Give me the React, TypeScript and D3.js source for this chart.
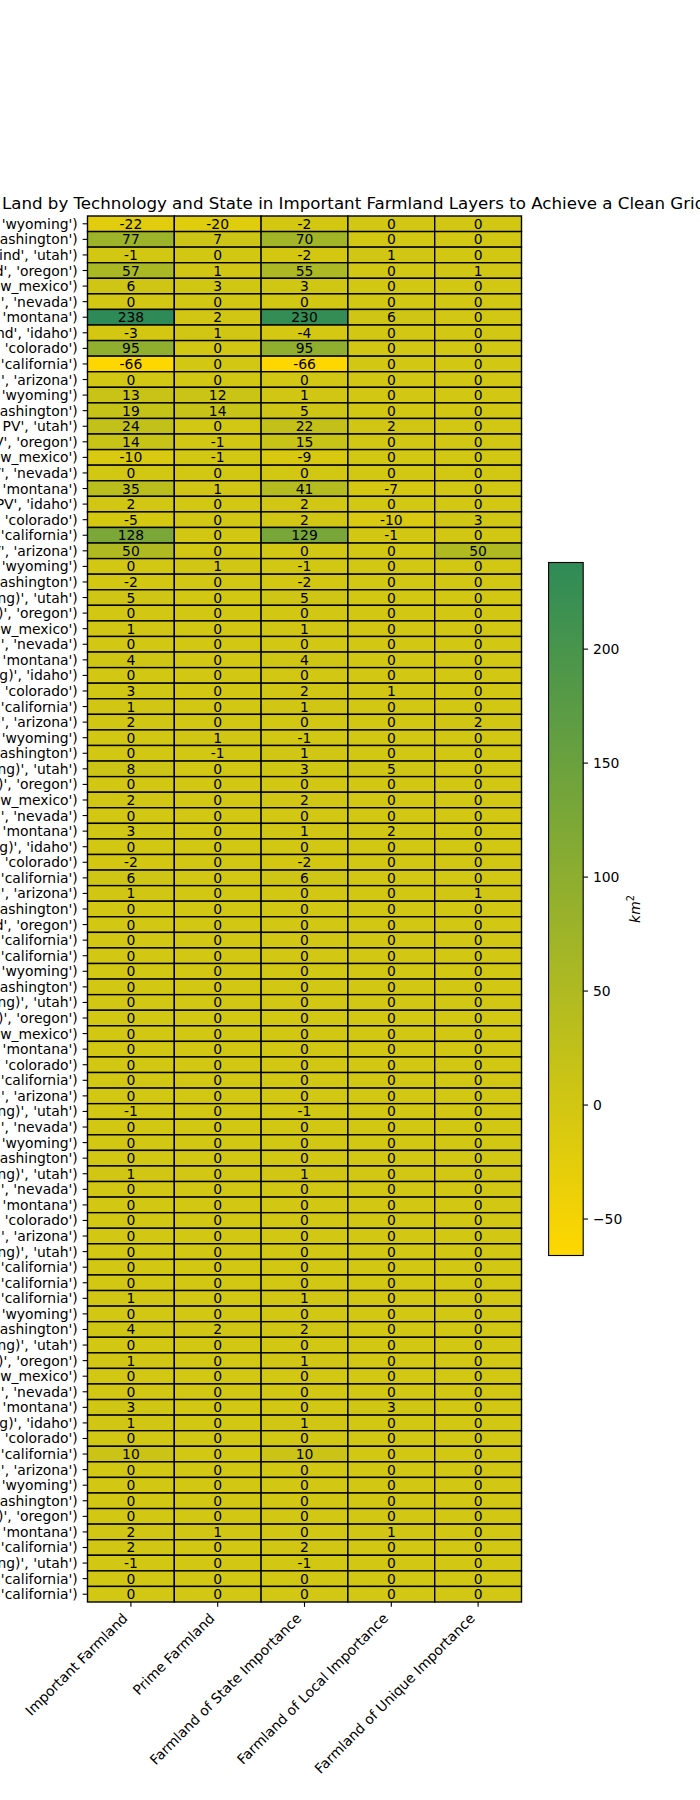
import { useEffect, useRef } from 'react';
import * as d3 from 'd3';

const columns = [
  'Important Farmland',
  'Prime Farmland',
  'Farmland of State Importance',
  'Farmland of Local Importance',
  'Farmland of Unique Importance',
];

const rowLabels = [
  "('Onshore Wind', 'wyoming')", "('Onshore Wind', 'washington')", "('Onshore Wind', 'utah')",
  "('Onshore Wind', 'oregon')", "('Onshore Wind', 'new_mexico')", "('Onshore Wind', 'nevada')",
  "('Onshore Wind', 'montana')", "('Onshore Wind', 'idaho')", "('Onshore Wind', 'colorado')",
  "('Onshore Wind', 'california')", "('Onshore Wind', 'arizona')",
  "('Utility PV', 'wyoming')", "('Utility PV', 'washington')", "('Utility PV', 'utah')",
  "('Utility PV', 'oregon')", "('Utility PV', 'new_mexico')", "('Utility PV', 'nevada')",
  "('Utility PV', 'montana')", "('Utility PV', 'idaho')", "('Utility PV', 'colorado')",
  "('Utility PV', 'california')", "('Utility PV', 'arizona')",
  "('Transmission (Existing)', 'wyoming')", "('Transmission (Existing)', 'washington')",
  "('Transmission (Existing)', 'utah')", "('Transmission (Existing)', 'oregon')",
  "('Transmission (Existing)', 'new_mexico')", "('Transmission (Existing)', 'nevada')",
  "('Transmission (Existing)', 'montana')", "('Transmission (Existing)', 'idaho')",
  "('Transmission (Existing)', 'colorado')", "('Transmission (Existing)', 'california')",
  "('Transmission (Existing)', 'arizona')",
  "('Transmission (Upgrading)', 'wyoming')", "('Transmission (Upgrading)', 'washington')",
  "('Transmission (Upgrading)', 'utah')", "('Transmission (Upgrading)', 'oregon')",
  "('Transmission (Upgrading)', 'new_mexico')", "('Transmission (Upgrading)', 'nevada')",
  "('Transmission (Upgrading)', 'montana')", "('Transmission (Upgrading)', 'idaho')",
  "('Transmission (Upgrading)', 'colorado')", "('Transmission (Upgrading)', 'california')",
  "('Transmission (Upgrading)', 'arizona')",
  "('Offshore Wind', 'washington')", "('Offshore Wind', 'oregon')", "('Offshore Wind', 'california')",
  "('Floating Offshore Wind', 'california')",
  "('Geothermal (Flash Existing)', 'wyoming')", "('Geothermal (Flash Existing)', 'washington')",
  "('Geothermal (Flash Existing)', 'utah')", "('Geothermal (Flash Existing)', 'oregon')",
  "('Geothermal (Flash Existing)', 'new_mexico')", "('Geothermal (Flash Existing)', 'montana')",
  "('Geothermal (Flash Existing)', 'colorado')", "('Geothermal (Flash Existing)', 'california')",
  "('Geothermal (Flash Existing)', 'arizona')",
  "('Geothermal (Binary Existing)', 'utah')", "('Geothermal (Binary Existing)', 'nevada')",
  "('Geothermal (Flash Upgrading)', 'wyoming')", "('Geothermal (Flash Upgrading)', 'washington')",
  "('Geothermal (Flash Upgrading)', 'utah')", "('Geothermal (Flash Upgrading)', 'nevada')",
  "('Geothermal (Flash Upgrading)', 'montana')", "('Geothermal (Flash Upgrading)', 'colorado')",
  "('Geothermal (Flash Upgrading)', 'arizona')",
  "('Geothermal (Binary Upgrading)', 'utah')", "('Geothermal (Binary Upgrading)', 'california')",
  "('Hydrokinetic', 'california')",
  "('Tidal', 'california')",
  "('Spur Lines (Wind Siting)', 'wyoming')", "('Spur Lines (Wind Siting)', 'washington')",
  "('Spur Lines (Wind Siting)', 'utah')", "('Spur Lines (Wind Siting)', 'oregon')",
  "('Spur Lines (Wind Siting)', 'new_mexico')", "('Spur Lines (Wind Siting)', 'nevada')",
  "('Spur Lines (Wind Siting)', 'montana')", "('Spur Lines (Wind Siting)', 'idaho')",
  "('Spur Lines (Wind Siting)', 'colorado')", "('Spur Lines (Wind Siting)', 'california')",
  "('Spur Lines (Wind Siting)', 'arizona')",
  "('Spur Lines (PV Siting)', 'wyoming')", "('Spur Lines (PV Siting)', 'washington')",
  "('Spur Lines (PV Siting)', 'oregon')", "('Spur Lines (PV Siting)', 'montana')",
  "('Spur Lines (PV Siting)', 'california')",
  "('Spur Lines (Geo Siting)', 'utah')", "('Spur Lines (Geo Siting)', 'california')",
  "('Spur Lines (Offshore)', 'california')",
];

// one value per row, same order as rowLabels
const importantFarmland = [
  -22, 77, -1, 57, 6, 0, 238, -3, 95, -66, 0,
  13, 19, 24, 14, -10, 0, 35, 2, -5, 128, 50,
  0, -2, 5, 0, 1, 0, 4, 0, 3, 1, 2,
  0, 0, 8, 0, 2, 0, 3, 0, -2, 6, 1,
  0, 0, 0,
  0,
  0, 0, 0, 0, 0, 0, 0, 0, 0,
  -1, 0,
  0, 0, 1, 0, 0, 0, 0,
  0, 0,
  0,
  1,
  0, 4, 0, 1, 0, 0, 3, 1, 0, 10, 0,
  0, 0, 0, 2, 2,
  -1, 0,
  0,
];

const primeFarmland = [
  -20, 7, 0, 1, 3, 0, 2, 1, 0, 0, 0,
  12, 14, 0, -1, -1, 0, 1, 0, 0, 0, 0,
  1, 0, 0, 0, 0, 0, 0, 0, 0, 0, 0,
  1, -1, 0, 0, 0, 0, 0, 0, 0, 0, 0,
  0, 0, 0,
  0,
  0, 0, 0, 0, 0, 0, 0, 0, 0,
  0, 0,
  0, 0, 0, 0, 0, 0, 0,
  0, 0,
  0,
  0,
  0, 2, 0, 0, 0, 0, 0, 0, 0, 0, 0,
  0, 0, 0, 1, 0,
  0, 0,
  0,
];

const stateImportance = [
  -2, 70, -2, 55, 3, 0, 230, -4, 95, -66, 0,
  1, 5, 22, 15, -9, 0, 41, 2, 2, 129, 0,
  -1, -2, 5, 0, 1, 0, 4, 0, 2, 1, 0,
  -1, 1, 3, 0, 2, 0, 1, 0, -2, 6, 0,
  0, 0, 0,
  0,
  0, 0, 0, 0, 0, 0, 0, 0, 0,
  -1, 0,
  0, 0, 1, 0, 0, 0, 0,
  0, 0,
  0,
  1,
  0, 2, 0, 1, 0, 0, 0, 1, 0, 10, 0,
  0, 0, 0, 0, 2,
  -1, 0,
  0,
];

const localImportance = [
  0, 0, 1, 0, 0, 0, 6, 0, 0, 0, 0,
  0, 0, 2, 0, 0, 0, -7, 0, -10, -1, 0,
  0, 0, 0, 0, 0, 0, 0, 0, 1, 0, 0,
  0, 0, 5, 0, 0, 0, 2, 0, 0, 0, 0,
  0, 0, 0,
  0,
  0, 0, 0, 0, 0, 0, 0, 0, 0,
  0, 0,
  0, 0, 0, 0, 0, 0, 0,
  0, 0,
  0,
  0,
  0, 0, 0, 0, 0, 0, 3, 0, 0, 0, 0,
  0, 0, 0, 1, 0,
  0, 0,
  0,
];

const uniqueImportance = [
  0, 0, 0, 1, 0, 0, 0, 0, 0, 0, 0,
  0, 0, 0, 0, 0, 0, 0, 0, 3, 0, 50,
  0, 0, 0, 0, 0, 0, 0, 0, 0, 0, 2,
  0, 0, 0, 0, 0, 0, 0, 0, 0, 0, 1,
  0, 0, 0,
  0,
  0, 0, 0, 0, 0, 0, 0, 0, 0,
  0, 0,
  0, 0, 0, 0, 0, 0, 0,
  0, 0,
  0,
  0,
  0, 0, 0, 0, 0, 0, 0, 0, 0, 0, 0,
  0, 0, 0, 0, 0,
  0, 0,
  0,
];

const colorbarTicks = [-50, 0, 50, 100, 150, 200];

const TITLE =
  'Changes in Land by Technology and State in Important Farmland Layers to Achieve a Clean Grid';

export default function App() {
  const svgRef = useRef<SVGSVGElement>(null);

  useEffect(() => {
    if (!svgRef.current) return;
    const width = 700;
    const height = 1800;
    const font = 'DejaVu Sans';
    const fs = 13.9;
    const pt = 100 / 72;

    const svg = d3.select(svgRef.current);
    svg.selectAll('*').remove();
    svg.attr('width', width).attr('height', height).attr('viewBox', `0 0 ${width} ${height}`);

    const series = [importantFarmland, primeFarmland, stateImportance, localImportance, uniqueImportance];
    const cells = rowLabels.flatMap((_, i) => columns.map((_c, j) => ({ i, j, value: series[j][i] })));

    const left = 87.5;
    const right = 521.5;
    const top = 216;
    const bottom = 1602;

    const x = d3.scaleBand<number>().domain(d3.range(columns.length)).range([left, right]);
    const y = d3.scaleBand<number>().domain(d3.range(rowLabels.length)).range([top, bottom]);

    const all = series.flat();
    const vmin = d3.min(all) ?? 0;
    const vmax = d3.max(all) ?? 1;
    const color = d3
      .scaleLinear<string>()
      .domain([vmin, vmax])
      .range(['#ffd700', '#2e8b57'])
      .interpolate(d3.interpolateRgb);

    // Cells
    const g = svg.append('g');
    g.selectAll('rect.cell')
      .data(cells)
      .enter()
      .append('rect')
      .attr('class', 'cell')
      .attr('x', (d) => x(d.j)!)
      .attr('y', (d) => y(d.i)!)
      .attr('width', x.bandwidth())
      .attr('height', y.bandwidth())
      .attr('fill', (d) => color(d.value))
      .attr('stroke', '#000')
      .attr('stroke-width', 1.4);

    // Annotations
    g.selectAll('text.annot')
      .data(cells)
      .enter()
      .append('text')
      .attr('class', 'annot')
      .attr('x', (d) => x(d.j)! + x.bandwidth() / 2)
      .attr('y', (d) => y(d.i)! + y.bandwidth() / 2)
      .attr('dy', '0.36em')
      .attr('text-anchor', 'middle')
      .attr('font-family', font)
      .attr('font-size', fs)
      .attr('fill', '#000')
      .text((d) => String(d.value));

    // Y axis
    const yAxis = svg.append('g');
    rowLabels.forEach((label, i) => {
      const cy = y(i)! + y.bandwidth() / 2;
      yAxis
        .append('line')
        .attr('x1', left - 3.5 * pt)
        .attr('x2', left)
        .attr('y1', cy)
        .attr('y2', cy)
        .attr('stroke', '#000')
        .attr('stroke-width', 0.8 * pt);
      yAxis
        .append('text')
        .attr('x', left - 7 * pt)
        .attr('y', cy)
        .attr('dy', '0.36em')
        .attr('text-anchor', 'end')
        .attr('font-family', font)
        .attr('font-size', fs)
        .attr('fill', '#000')
        .text(label);
    });

    // X axis
    const xAxis = svg.append('g');
    columns.forEach((col, j) => {
      const cx = x(j)! + x.bandwidth() / 2;
      xAxis
        .append('line')
        .attr('x1', cx)
        .attr('x2', cx)
        .attr('y1', bottom)
        .attr('y2', bottom + 3.5 * pt)
        .attr('stroke', '#000')
        .attr('stroke-width', 0.8 * pt);
      xAxis
        .append('text')
        .attr('transform', `translate(${cx - 2.3},${bottom + 7 * pt + 7.5}) rotate(-45)`)
        .attr('text-anchor', 'end')
        .attr('font-family', font)
        .attr('font-size', fs)
        .attr('fill', '#000')
        .text(col);
    });

    // Title (wider than the figure, clipped at both edges like the original)
    svg
      .append('text')
      .attr('x', (left + right) / 2)
      .attr('y', top - 7.5)
      .attr('text-anchor', 'middle')
      .attr('font-family', font)
      .attr('font-size', 12 * pt)
      .attr('fill', '#000')
      .text(TITLE);

    // Colorbar
    const cbLeft = 548.6;
    const cbWidth = 34.6;
    const cbTop = 562.5;
    const cbBottom = 1255.5;
    const cy = d3.scaleLinear().domain([vmin, vmax]).range([cbBottom, cbTop]);

    const grad = svg
      .append('defs')
      .append('linearGradient')
      .attr('id', 'cbgrad')
      .attr('x1', 0)
      .attr('y1', 1)
      .attr('x2', 0)
      .attr('y2', 0);
    grad.append('stop').attr('offset', '0%').attr('stop-color', color(vmin));
    grad.append('stop').attr('offset', '100%').attr('stop-color', color(vmax));

    svg
      .append('rect')
      .attr('x', cbLeft)
      .attr('y', cbTop)
      .attr('width', cbWidth)
      .attr('height', cbBottom - cbTop)
      .attr('fill', 'url(#cbgrad)')
      .attr('stroke', '#000')
      .attr('stroke-width', 0.8 * pt);

    const cbAxis = svg.append('g');
    colorbarTicks.forEach((t) => {
      const ty = cy(t);
      cbAxis
        .append('line')
        .attr('x1', cbLeft + cbWidth)
        .attr('x2', cbLeft + cbWidth + 3.5 * pt)
        .attr('y1', ty)
        .attr('y2', ty)
        .attr('stroke', '#000')
        .attr('stroke-width', 0.8 * pt);
      cbAxis
        .append('text')
        .attr('x', cbLeft + cbWidth + 7 * pt)
        .attr('y', ty)
        .attr('dy', '0.36em')
        .attr('font-family', font)
        .attr('font-size', fs)
        .attr('fill', '#000')
        .text(t < 0 ? `\u2212${Math.abs(t)}` : String(t));
    });

    const cbLabel = svg
      .append('text')
      .attr('transform', `translate(640,${(cbTop + cbBottom) / 2}) rotate(-90)`)
      .attr('text-anchor', 'middle')
      .attr('font-family', font)
      .attr('font-size', fs)
      .attr('font-style', 'italic')
      .attr('fill', '#000');
    cbLabel.append('tspan').text('km');
    cbLabel
      .append('tspan')
      .attr('font-size', fs * 0.7)
      .attr('font-style', 'normal')
      .attr('dy', -6)
      .text('2');
  }, []);

  return <svg ref={svgRef} style={{ position: 'absolute', left: 0, top: 0, display: 'block' }} />;
}
